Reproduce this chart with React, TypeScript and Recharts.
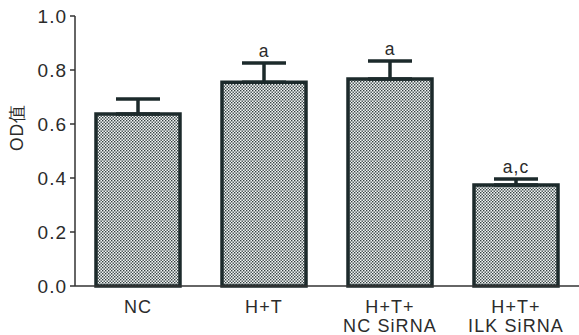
import { BarChart, Bar, XAxis, YAxis, ErrorBar, LabelList } from 'recharts';

const groups = [['NC'], ['H+T'], ['H+T+', 'NC SiRNA'], ['H+T+', 'ILK SiRNA']];
const odValues = [0.637, 0.755, 0.767, 0.374];
const sdValues = [0.056, 0.071, 0.066, 0.022];
const marks = ['', 'a', 'a', 'a,c'];
const yTicks = [0, 0.2, 0.4, 0.6, 0.8, 1.0];

const FONT = '"Liberation Sans", Arial, sans-serif';
const INK = '#2b2b2b';
const EDGE = '#1c2a2b';

const data = groups.map((g, i) => ({
  name: g.join('\n'),
  od: odValues[i],
  err: [0, sdValues[i]],
  top: sdValues[i],
  mark: marks[i],
}));

function GroupTick(props: any) {
  const { x, y, payload } = props;
  const lines = String(payload.value).split('\n');
  return (
    <text x={x} y={y} textAnchor="middle" fill={INK} fontSize={18} fontFamily={FONT} letterSpacing={1.1}>
      {lines.map((l, i) => (
        <tspan key={i} x={x} dy={i === 0 ? 18.5 : 19}>{l}</tspan>
      ))}
    </text>
  );
}

function ValueTick(props: any) {
  const { x, y, payload } = props;
  return (
    <text x={x - 1} y={y} dy={6.5} textAnchor="end" fill={INK} fontSize={19} fontFamily={FONT} letterSpacing={1}>
      {Number(payload.value).toFixed(1)}
    </text>
  );
}

export default function App() {
  return (
    <div style={{ position: 'absolute', left: 0, top: 0, background: '#fff' }}>
      <BarChart width={579} height={335} data={data} margin={{ top: 16, right: 0, left: 0, bottom: 0 }} barSize={84}>
        <defs>
          <pattern id="dots" width="3" height="3" patternUnits="userSpaceOnUse">
            <rect width="3" height="3" fill="#f3f6f6" />
            <rect x="0" y="0" width="1.4" height="1.4" fill="#344040" />
            <rect x="1.5" y="1.5" width="1.4" height="1.4" fill="#344040" />
          </pattern>
        </defs>
        <XAxis
          dataKey="name"
          tick={<GroupTick />}
          tickLine={false}
          axisLine={{ stroke: '#333', strokeWidth: 1.5 }}
          interval={0}
          height={49}
        />
        <YAxis
          domain={[0, 1]}
          ticks={yTicks}
          tick={<ValueTick />}
          tickLine={{ stroke: '#333', strokeWidth: 1.5 }}
          tickSize={5}
          axisLine={{ stroke: '#333', strokeWidth: 1.5 }}
          width={75}
          label={{ value: 'OD值', angle: -90, position: 'insideLeft', offset: 17, fill: INK, fontSize: 17.5, fontFamily: FONT, letterSpacing: 1 }}
        />
        <Bar dataKey="od" stackId="s" fill="url(#dots)" stroke={EDGE} strokeWidth={3.5} isAnimationActive={false}>
          <ErrorBar dataKey="err" width={22} stroke={EDGE} strokeWidth={3.5} direction="y" />
        </Bar>
        <Bar dataKey="top" stackId="s" fill="none" stroke="none" isAnimationActive={false}>
          <LabelList dataKey="mark" position="top" offset={6} fill={INK} fontSize={17.5} fontFamily={FONT} letterSpacing={1} />
        </Bar>
      </BarChart>
    </div>
  );
}
